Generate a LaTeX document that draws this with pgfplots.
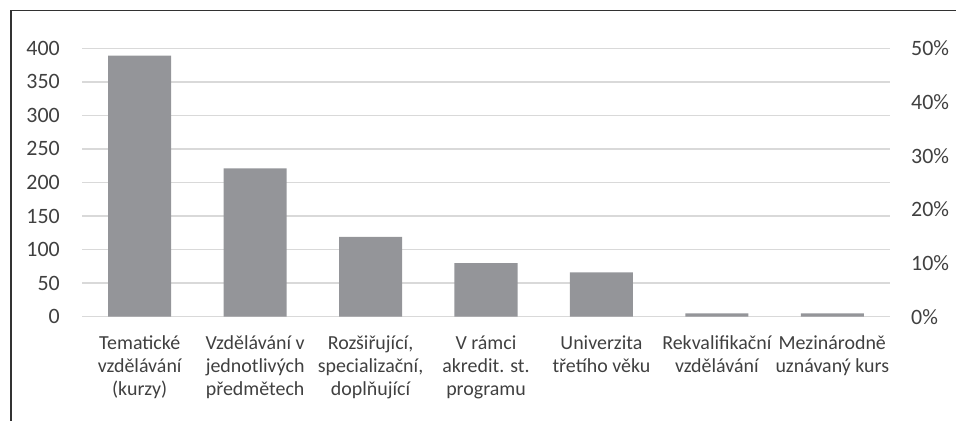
\documentclass[border=0pt]{standalone}
\usepackage{pgfplots}
\pgfplotsset{compat=1.18}
\usepackage{fontspec}
\setmainfont{Carlito}
\definecolor{bargray}{RGB}{148,149,153}
\definecolor{gridgray}{RGB}{217,217,217}
\definecolor{txt}{RGB}{64,64,64}
\definecolor{framec}{RGB}{50,50,50}
\begin{document}
\begin{tikzpicture}
\path[use as bounding box] (0bp,0bp) rectangle (956bp,421bp);
\draw[framec, line width=1.5bp] (11bp,0bp) -- (11bp,410.5bp) -- (956bp,410.5bp);
\begin{axis}[
  at={(82bp,104.3bp)}, anchor=south west, scale only axis,
  width=808bp, height=268.4bp,
  xmin=-0.5, xmax=6.5, ymin=0, ymax=400,
  xtick={0,...,6},
  xticklabels={{Tematické\\vzdělávání\\(kurzy)},{Vzdělávání v\\jednotlivých\\předmětech},{Rozšiřující,\\specializační,\\doplňující},{V rámci\\akredit. st.\\programu},{Univerzita\\třetího věku},{Rekvalifikační\\vzdělávání},{Mezinárodně\\uznávaný kurs}},
  ytick={0,50,...,400},
  axis line style={draw=none},
  major tick length=0pt,
  ymajorgrids, grid style={gridgray, line width=1.5bp},
  /pgf/number format/assume math mode=true,
  ticklabel style={text=txt, inner sep=0pt},
  xticklabel style={font=\fontsize{20}{23}\selectfont, align=center, anchor=north, yshift=-19bp},
  yticklabel style={font=\fontsize{22}{24}\selectfont, anchor=east, xshift=-22bp},
  ybar, bar width=63bp,
]
\addplot[fill=bargray, draw=none] coordinates {(0,389) (1,221) (2,119) (3,80) (4,66) (5,5) (6,5)};
\end{axis}
\begin{axis}[
  at={(82bp,104.3bp)}, anchor=south west, scale only axis,
  width=808bp, height=268.4bp,
  xmin=-0.5, xmax=6.5, ymin=0, ymax=0.5,
  axis y line*=right, hide x axis,
  axis line style={draw=none},
  major tick length=0pt,
  ytick={0,0.1,0.2,0.3,0.4,0.5},
  yticklabels={0\%,10\%,20\%,30\%,40\%,50\%},
  yticklabel style={font=\fontsize{22}{24}\selectfont, text=txt, inner sep=0pt, anchor=west, xshift=21bp},
]
\end{axis}
\end{tikzpicture}
\end{document}
